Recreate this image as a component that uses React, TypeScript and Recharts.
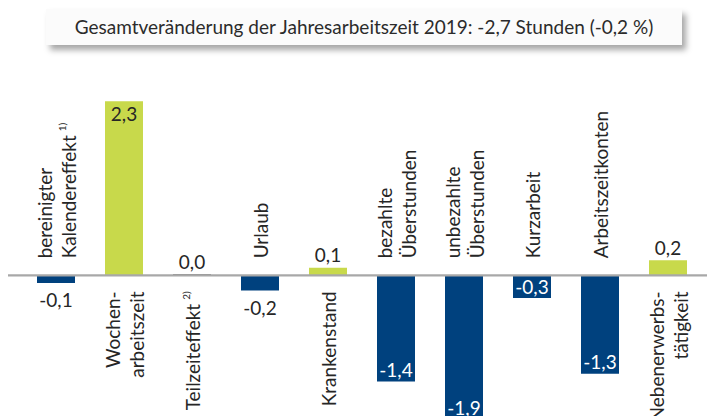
import { BarChart, Bar, Cell, XAxis, YAxis, ReferenceLine, LabelList } from 'recharts'

const categories = [
  'Kalendereffekt',
  'Wochenarbeitszeit',
  'Teilzeiteffekt',
  'Urlaub',
  'Krankenstand',
  'bezahlte Überstunden',
  'unbezahlte Überstunden',
  'Kurzarbeit',
  'Arbeitszeitkonten',
  'Nebenerwerbstätigkeit',
]

const labelLines = [
  ['bereinigter', 'Kalendereffekt'],
  ['Wochen-', 'arbeitszeit'],
  ['Teilzeiteffekt'],
  ['Urlaub'],
  ['Krankenstand'],
  ['bezahlte', 'Überstunden'],
  ['unbezahlte', 'Überstunden'],
  ['Kurzarbeit'],
  ['Arbeitszeitkonten'],
  ['Nebenerwerbs-', 'tätigkeit'],
]

const footnotes = ['1)', '', '2)', '', '', '', '', '', '', '']

const values = [-0.1, 2.3, 0.0, -0.2, 0.1, -1.4, -1.9, -0.3, -1.3, 0.2]

const title = 'Gesamtveränderung der Jahresarbeitszeit 2019: -2,7 Stunden (-0,2 %)'

const BLUE = '#00417e'
const GREEN = '#c8d94b'
const ZERO_GRAY = '#555555'
const TEXT = '#262626'
const FONT = 'Lato, sans-serif'

const data = categories.map((name, i) => ({ name, v: values[i] }))

function barGeom(props: any) {
  const vb = props.viewBox ?? props
  const x = Number(vb.x)
  const y = Number(vb.y)
  const w = Number(vb.width)
  const h = Number(vb.height)
  const v = values[props.index]
  const a = y
  const b = y + h
  const zero = v >= 0 ? Math.max(a, b) : Math.min(a, b)
  const end = v >= 0 ? Math.min(a, b) : Math.max(a, b)
  return { cx: x + w / 2, zero, end, v }
}

function ValueLabel(props: any) {
  const { cx, end, v } = barGeom(props)
  const inside = Math.abs(v) >= 0.3
  let y: number
  let fill = TEXT
  if (inside) {
    y = v > 0 ? end + 12 : end - 12
    fill = v > 0 ? TEXT : '#ffffff'
  } else {
    y = v >= 0 ? end - 13 : end + 16.5
  }
  return (
    <text
      x={cx}
      y={y}
      textAnchor="middle"
      dominantBaseline="central"
      fontFamily={FONT}
      fontSize={19}
      fill={fill}
    >
      {v.toFixed(1).replace('.', ',')}
    </text>
  )
}

function CategoryLabel(props: any) {
  const { cx, zero, v } = barGeom(props)
  const lines = labelLines[props.index]
  const note = footnotes[props.index]
  const above = v < 0
  const y = above ? zero - 17 : zero + 16
  return (
    <g>
      {lines.map((line, i) => {
        const lx = cx + (i - (lines.length - 1) / 2) * 24
        const last = i === lines.length - 1
        return (
          <text
            key={i}
            transform={`translate(${lx},${y}) rotate(-90)`}
            textAnchor={above ? 'start' : 'end'}
            dominantBaseline="central"
            fontFamily={FONT}
            fontSize={19}
            fill={TEXT}
          >
            {line}
            {last && note ? (
              <tspan fontSize={10} dx={4} dy={-6}>
                {note}
              </tspan>
            ) : null}
          </text>
        )
      })}
    </g>
  )
}

export default function App() {
  return (
    <div
      style={{
        position: 'absolute',
        left: 0,
        top: 0,
        width: 707,
        height: 416,
        overflow: 'hidden',
        background: '#ffffff',
      }}
    >
      <div
        style={{
          position: 'absolute',
          left: 46,
          top: 9,
          width: 636,
          height: 36,
          background: '#fbfbfb',
          boxShadow: '4px 5px 6px rgba(0,0,0,0.35)',
          fontFamily: FONT,
          fontSize: 19,
          color: '#2b2b2b',
          textAlign: 'center',
          lineHeight: '36px',
          whiteSpace: 'nowrap',
        }}
      >
        {title}
      </div>
      <div style={{ position: 'absolute', left: 0, top: 0 }}>
        <BarChart
          width={707}
          height={442}
          data={data}
          margin={{ top: 86, right: 0, bottom: 0, left: 8 }}
        >
          <XAxis dataKey="name" hide padding={{ left: 14, right: 5 }} />
          <YAxis hide type="number" domain={[-2.2, 2.5]} allowDataOverflow />
          <ReferenceLine y={0} stroke="#a8a8a8" strokeWidth={2.4} />
          <Bar
            dataKey="v"
            barSize={38}
            isAnimationActive={false}
            minPointSize={(value: any) => (value === 0 ? 1 : 0)}
          >
            {data.map((d, i) => (
              <Cell key={i} fill={d.v > 0 ? GREEN : d.v < 0 ? BLUE : ZERO_GRAY} />
            ))}
            <LabelList dataKey="v" content={ValueLabel} />
            <LabelList dataKey="name" content={CategoryLabel} />
          </Bar>
        </BarChart>
      </div>
    </div>
  )
}
